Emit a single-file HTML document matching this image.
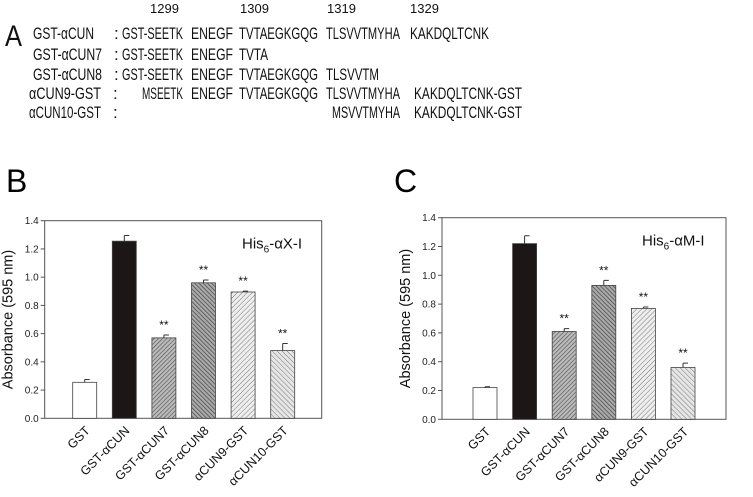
<!DOCTYPE html>
<html><head><meta charset="utf-8"><style>
body{margin:0;background:#fff}
svg{display:block;font-family:"Liberation Sans",sans-serif}
</style></head><body>
<svg id="fig" width="753" height="497" viewBox="0 0 753 497">
<defs>
<pattern id="p7" patternUnits="userSpaceOnUse" width="3" height="3" patternTransform="rotate(45)"><rect width="3" height="3" fill="#bbb"/><line x1="0" y1="0" x2="0" y2="3" stroke="#555" stroke-width="1.3"/></pattern>
<pattern id="p8" patternUnits="userSpaceOnUse" width="3" height="3" patternTransform="rotate(-45)"><rect width="3" height="3" fill="#aaa"/><line x1="0" y1="0" x2="0" y2="3" stroke="#444" stroke-width="1.4"/></pattern>
<pattern id="p9" patternUnits="userSpaceOnUse" width="3.5" height="3.5" patternTransform="rotate(45)"><rect width="3.5" height="3.5" fill="#eee"/><line x1="0" y1="0" x2="0" y2="3.5" stroke="#777" stroke-width="1"/></pattern>
<pattern id="p10" patternUnits="userSpaceOnUse" width="3.5" height="3.5" patternTransform="rotate(-45)"><rect width="3.5" height="3.5" fill="#e6e6e6"/><line x1="0" y1="0" x2="0" y2="3.5" stroke="#777" stroke-width="1"/></pattern>
</defs>
<g font-size="17" fill="#111">
<text x="5" y="46" font-size="30" textLength="17" lengthAdjust="spacingAndGlyphs">A</text>
<g font-size="13">
<text x="150" y="13">1299</text><text x="240" y="13">1309</text><text x="327" y="13">1319</text><text x="410" y="13">1329</text></g>
<g>
<text x="33" y="39" textLength="61" lengthAdjust="spacingAndGlyphs">GST-αCUN</text>
<text x="114" y="39">:</text>
<text x="122" y="39" textLength="61" lengthAdjust="spacingAndGlyphs">GST-SEETK</text>
<text x="191" y="39" textLength="42" lengthAdjust="spacingAndGlyphs">ENEGF</text>
<text x="239" y="39" textLength="79" lengthAdjust="spacingAndGlyphs">TVTAEGKGQG</text>
<text x="326" y="39" textLength="74" lengthAdjust="spacingAndGlyphs">TLSVVTMYHA</text>
<text x="410" y="39" textLength="79" lengthAdjust="spacingAndGlyphs">KAKDQLTCNK</text></g>
<g>
<text x="33" y="60" textLength="69" lengthAdjust="spacingAndGlyphs">GST-αCUN7</text>
<text x="114" y="60">:</text>
<text x="122" y="60" textLength="61" lengthAdjust="spacingAndGlyphs">GST-SEETK</text>
<text x="191" y="60" textLength="42" lengthAdjust="spacingAndGlyphs">ENEGF</text>
<text x="239" y="60" textLength="29" lengthAdjust="spacingAndGlyphs">TVTA</text></g>
<g>
<text x="33" y="80" textLength="69" lengthAdjust="spacingAndGlyphs">GST-αCUN8</text>
<text x="114" y="80">:</text>
<text x="122" y="80" textLength="61" lengthAdjust="spacingAndGlyphs">GST-SEETK</text>
<text x="191" y="80" textLength="42" lengthAdjust="spacingAndGlyphs">ENEGF</text>
<text x="239" y="80" textLength="79" lengthAdjust="spacingAndGlyphs">TVTAEGKGQG</text>
<text x="326" y="80" textLength="53" lengthAdjust="spacingAndGlyphs">TLSVVTM</text></g>
<g>
<text x="29" y="99" textLength="72" lengthAdjust="spacingAndGlyphs">αCUN9-GST</text>
<text x="113" y="99">:</text>
<text x="142" y="99" textLength="41" lengthAdjust="spacingAndGlyphs">MSEETK</text>
<text x="191" y="99" textLength="42" lengthAdjust="spacingAndGlyphs">ENEGF</text>
<text x="239" y="99" textLength="79" lengthAdjust="spacingAndGlyphs">TVTAEGKGQG</text>
<text x="326" y="99" textLength="74" lengthAdjust="spacingAndGlyphs">TLSVVTMYHA</text>
<text x="414" y="99" textLength="108" lengthAdjust="spacingAndGlyphs">KAKDQLTCNK-GST</text></g>
<g>
<text x="29" y="118" textLength="72" lengthAdjust="spacingAndGlyphs">αCUN10-GST</text>
<text x="113" y="118">:</text>
<text x="332" y="118" textLength="68" lengthAdjust="spacingAndGlyphs">MSVVTMYHA</text>
<text x="414" y="118" textLength="108" lengthAdjust="spacingAndGlyphs">KAKDQLTCNK-GST</text></g>
</g>
<text x="6" y="192" font-size="32">B</text>
<text x="394" y="192" font-size="32">C</text>
<g id="chartB"></g>
<g id="chartC"></g>
</svg>
<script>
const categories = ["GST","GST-αCUN","GST-αCUN7","GST-αCUN8","αCUN9-GST","αCUN10-GST"];
const valuesB = [0.255,1.255,0.57,0.96,0.895,0.48];
const errorsB = [0.02,0.04,0.02,0.02,0.006,0.05];
const valuesC = [0.22,1.22,0.61,0.93,0.77,0.36];
const errorsC = [0.006,0.055,0.02,0.035,0.01,0.03];
const signif = ["","","**","**","**","**"];
const yTicks = [0.0,0.2,0.4,0.6,0.8,1.0,1.2,1.4];
const fills = ["#fff","#1c1616","url(#p7)","url(#p8)","url(#p9)","url(#p10)"];
const NS="http://www.w3.org/2000/svg";
function mk(tag,attrs,parent){const e=document.createElementNS(NS,tag);for(const k in attrs)e.setAttribute(k,attrs[k]);parent.appendChild(e);return e;}
function draw(g,vals,errs,fx,x1,yt,yb,firstOff,step,title,titleX){
  const y=v=>yb-(v/1.4)*(yb-yt);
  const x=i=>fx+firstOff+i*step;
  const frame=mk('rect',{x:fx,y:yt,width:x1-fx,height:yb-yt,fill:'none',stroke:'#555','stroke-width':1},g);
  
  
  yTicks.forEach(t=>{
    const l=mk('line',{x1:fx-4,x2:fx,y1:y(t),y2:y(t),stroke:'#555'},g);
    
    
    const tx=mk('text',{x:fx-6,y:y(t)+3.5,'font-size':10,'text-anchor':'end',fill:'#222'},g);
    tx.textContent=t.toFixed(1);
    
    
  });
  const yt2=mk('text',{transform:`translate(${fx-32},${(yt+yb)/2}) rotate(-90)`,'font-size':14.5,'text-anchor':'middle',fill:'#111'},g);
  yt2.textContent='Absorbance  (595 nm)';
  
  
  vals.forEach((v,i)=>{
    const cx=x(i),w=24;
    const b=mk('rect',{x:cx-w/2,y:y(v),width:w,height:yb-y(v),fill:fills[i],stroke:'#444','stroke-width':0.8},g);
    
    
    const e=mk('path',{d:`M${cx},${y(v)} V${y(v+errs[i])} M${cx},${y(v+errs[i])} H${cx+5}`,stroke:'#333',fill:'none','stroke-width':1},g);
    
    
    if(signif[i]){
      const s=mk('text',{x:cx,y:y(v+errs[i])-6,'font-size':12,'text-anchor':'middle',fill:'#111'},g);
      s.textContent=signif[i];
      
      
    }
    const lb=mk('text',{transform:`translate(${cx+6},${yb+13}) rotate(-45)`,'font-size':12.5,'text-anchor':'end',fill:'#111'},g);
    lb.textContent=categories[i];
    
    
  });
  const t=mk('text',{x:titleX,y:yt+28,'font-size':15,fill:'#111'},g);
  t.innerHTML='His<tspan font-size="10" dy="4">6</tspan><tspan dy="-4">-α'+title+'-I</tspan>';
  
  
}
draw(document.getElementById('chartB'),valuesB,errorsB,44.7,321.7,220.7,418.3,40,39.6,'X',242);
draw(document.getElementById('chartC'),valuesC,errorsC,442,726,217.7,419.3,43,39.6,'M',642);
</script>
</body></html>
